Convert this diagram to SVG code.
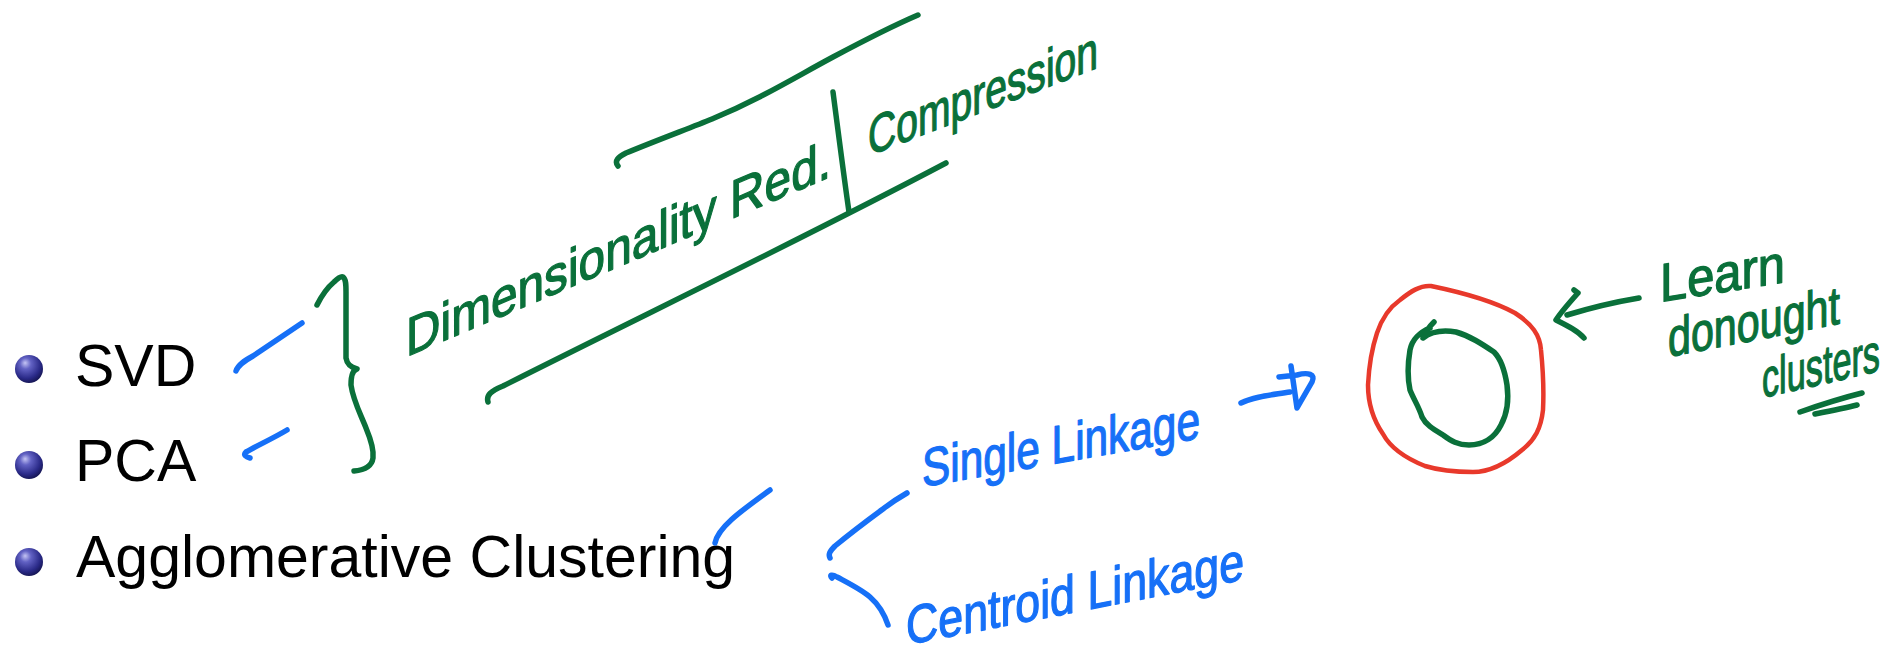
<svg xmlns="http://www.w3.org/2000/svg" width="1885" height="650" viewBox="0 0 1885 650">
  <defs>
    <radialGradient id="ball" cx="0.42" cy="0.36" r="0.66" fx="0.36" fy="0.28">
      <stop offset="0" stop-color="#c4c4f4"/>
      <stop offset="0.3" stop-color="#6262c4"/>
      <stop offset="0.75" stop-color="#2a2a88"/>
      <stop offset="1" stop-color="#151552"/>
    </radialGradient>
  </defs>
  <style>
    .item { font-family: "Liberation Sans", Arial, sans-serif; font-size: 59px; fill: #000; }
    .hand { font-family: "Liberation Sans", "DejaVu Sans", sans-serif; font-size: 54px; stroke-width: 1.3; stroke-linejoin: round; }
    .g { fill: #0a703a; stroke: #0a703a; }
    .b { fill: #1670f7; stroke: #1670f7; }
    .ink { fill: none; stroke-linecap: round; stroke-linejoin: round; stroke-width: 5.5; }
    .ink-g { stroke: #0a703a; }
    .ink-b { stroke: #1670f7; }
    .ink-r { stroke: #e8392b; stroke-width: 4.5; }
  </style>
  <rect width="1885" height="650" fill="#fff"/>

  <!-- bullet list -->
  <g id="item-svd">
    <circle cx="29" cy="369" r="14" fill="url(#ball)"/>
    <text class="item" x="75" y="386">SVD</text>
  </g>
  <g id="item-pca">
    <circle cx="29" cy="465" r="14" fill="url(#ball)"/>
    <text class="item" x="75" y="481">PCA</text>
  </g>
  <g id="item-agglomerative">
    <circle cx="29" cy="562" r="14" fill="url(#ball)"/>
    <text class="item" x="76" y="577">Agglomerative Clustering</text>
  </g>

  <!-- handwritten labels -->
  <g id="label-dimred">
    <text class="hand g" font-size="58" transform="translate(406 357) skewY(-23)" textLength="425" lengthAdjust="spacingAndGlyphs">Dimensionality Red.</text>
  </g>
  <g id="label-compression">
    <text class="hand g" transform="translate(868 156) skewY(-21)" textLength="230" lengthAdjust="spacingAndGlyphs">Compression</text>
  </g>
  <g id="label-single">
    <text class="hand b" transform="translate(922 487) skewY(-10)" textLength="278" lengthAdjust="spacingAndGlyphs">Single Linkage</text>
  </g>
  <g id="label-centroid">
    <text class="hand b" font-size="56" transform="translate(906 645) skewY(-11)" textLength="338" lengthAdjust="spacingAndGlyphs">Centroid Linkage</text>
  </g>
  <g id="label-learn">
    <text class="hand g" transform="translate(1660 302) skewY(-9)" textLength="125" lengthAdjust="spacingAndGlyphs">Learn</text>
    <text class="hand g" font-size="52" transform="translate(1668 357) skewY(-11)" textLength="172" lengthAdjust="spacingAndGlyphs">donought</text>
    <text class="hand g" font-size="46" transform="translate(1762 398) skewY(-13)" textLength="118" lengthAdjust="spacingAndGlyphs">clusters</text>
    <path class="ink ink-g" d="M1800,412 C1820,405 1842,398 1862,393"/>
    <path class="ink ink-g" d="M1815,414 C1830,411 1845,408 1857,405"/>
  </g>

  <!-- ring-shaped cluster sketch -->
  <g id="ring">
    <path class="ink ink-r" d="M1431,286 C1460,292 1495,302 1515,313 C1532,324 1540,335 1541,350 C1543,370 1544,390 1543,410 C1541,428 1535,440 1522,450 C1508,462 1492,472 1473,472 C1455,472 1438,470 1425,466 C1405,458 1390,447 1383,434 C1372,418 1368,400 1368,385 C1369,365 1372,348 1377,333 C1382,318 1390,307 1400,300 C1410,292 1420,285 1431,286 Z"/>
    <path class="ink ink-g" d="M1434,322 C1429,327 1425,333 1423,338 C1432,331 1444,330 1456,332 C1470,336 1482,344 1494,352 C1502,360 1505,372 1507,385 C1509,400 1507,414 1501,425 C1495,437 1484,445 1469,445 C1458,445 1451,441 1443,435 C1433,429 1426,425 1422,417 C1419,407 1414,400 1410,390 C1407,376 1408,362 1410,350 C1412,340 1420,332 1430,328"/>
  </g>

  <!-- connectors and pen strokes -->
  <g id="connectors" class="ink">
    <!-- ticks from the list items -->
    <path class="ink-b" d="M236,371 C238,365 244,361 253,356 L302,323"/>
    <path class="ink-b" d="M250,458 C246,457 243,455 246,452 C258,445 272,439 287,430"/>
    <path class="ink-b" d="M715,543 C718,528 738,513 770,490"/>
    <!-- curly brace -->
    <path class="ink-g" d="M317,305 C322,295 328,287 334,282 C338,278 341,276 343,277 C346,279 346,285 346,292 L346,358 C347,364 350,367 357,369 C353,370 351,375 351,385 C353,400 360,413 366,428 C371,440 374,450 373,458 C372,465 366,470 354,471"/>
    <!-- frame round the dimensionality label -->
    <path class="ink-g" d="M618,166 C614,161 618,157 626,153 C660,139 690,128 712,119 C760,99 792,79 833,57 C865,40 890,27 918,15"/>
    <path class="ink-g" d="M488,402 C486,395 491,391 503,386 C650,312 800,240 946,163"/>
    <path class="ink-g" d="M833,92 C838,130 843,170 849,212"/>
    <!-- bracket to the two linkage options -->
    <path class="ink-b" d="M830,558 C828,554 830,551 835,546 C852,532 868,520 883,509 C892,502 900,497 907,493"/>
    <path class="ink-b" d="M832,578 C829,575 832,574 837,577 C850,584 862,590 870,597 C878,604 884,613 888,625"/>
    <!-- arrow to the ring -->
    <path class="ink-b" d="M1241,403 C1255,396 1272,395 1290,392"/>
    <path class="ink-b" d="M1291,366 L1297,408 L1312,382 C1316,374 1308,372 1297,375 L1279,377"/>
    <!-- arrow from the note -->
    <path class="ink-g" d="M1639,298 C1615,302 1590,308 1567,315"/>
    <path class="ink-g" d="M1574,290 L1578,293 C1570,302 1561,312 1556,320 C1568,326 1578,331 1584,338"/>
  </g>
</svg>
